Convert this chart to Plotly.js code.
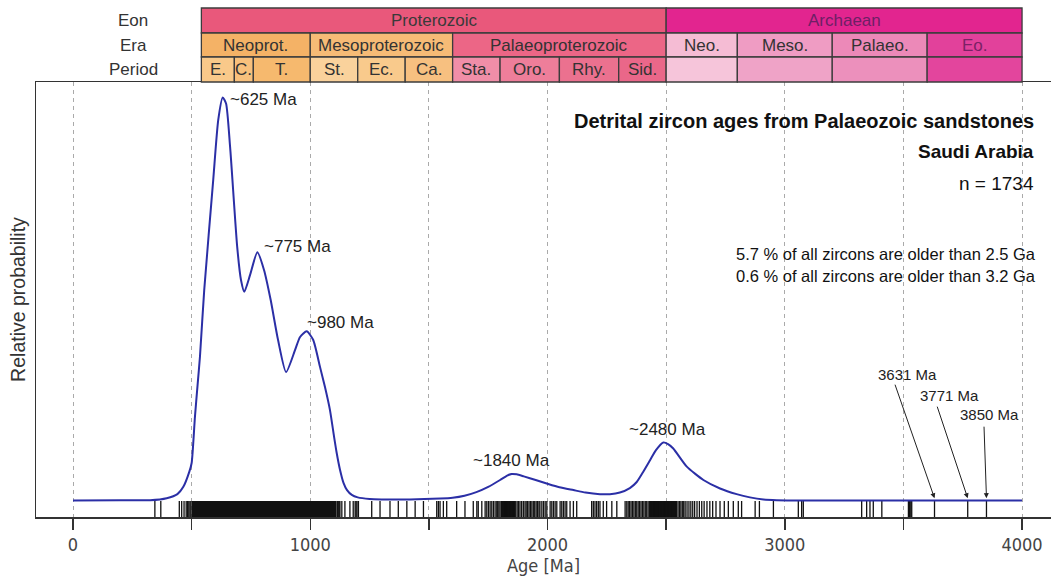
<!DOCTYPE html>
<html>
<head>
<meta charset="utf-8">
<script src="https://cdn.plot.ly/plotly-3.0.1.min.js"></script>
<style>html,body{margin:0;padding:0;background:#fff;}#chart{width:1051px;height:582px;}</style>
</head>
<body>
<div id="chart"></div>
<script>
// ---- Probability density curve (age in Ma, relative probability) ----
const ages = [0, 200, 325, 395, 440, 465, 490, 500, 514, 525, 535, 553, 591, 612, 631, 645, 662, 692, 708, 722, 746, 777, 805, 833, 864, 898, 936, 957, 985, 1012, 1041, 1062, 1083, 1100, 1111, 1125, 1140, 1155, 1175, 1200, 1250, 1300, 1420, 1547, 1600, 1650, 1700, 1750, 1800, 1830, 1849, 1870, 1900, 1950, 2003, 2050, 2109, 2160, 2221, 2263, 2305, 2347, 2376, 2403, 2432, 2457, 2488, 2508, 2530, 2587, 2657, 2727, 2797, 2853, 2910, 3065, 4000];
const relProb = [0.001, 0.002, 0.002, 0.007, 0.017, 0.035, 0.072, 0.094, 0.209, 0.287, 0.357, 0.522, 0.795, 0.943, 0.999, 0.984, 0.877, 0.629, 0.547, 0.518, 0.559, 0.616, 0.572, 0.498, 0.399, 0.319, 0.374, 0.406, 0.420, 0.399, 0.332, 0.282, 0.225, 0.160, 0.120, 0.078, 0.045, 0.027, 0.015, 0.009, 0.005, 0.004, 0.004, 0.006, 0.008, 0.013, 0.022, 0.035, 0.052, 0.063, 0.067, 0.066, 0.061, 0.052, 0.042, 0.034, 0.027, 0.021, 0.017, 0.017, 0.021, 0.032, 0.047, 0.072, 0.101, 0.126, 0.145, 0.141, 0.130, 0.085, 0.052, 0.031, 0.017, 0.009, 0.004, 0.001, 0.001];

// ---- Individual zircon ages (rug) ----
const rugAges = [345, 370, 448, 458, 468, 477, 483, 488, 493, 497,
  1114, 1118, 1122, 1125, 1133, 1146, 1167, 1181, 1189, 1193, 1197, 1203, 1259, 1294, 1336, 1371, 1407, 1442, 1477, 1533, 1540, 1547, 1561, 1575, 1617, 1652, 1687, 1702, 1708, 1723, 1737, 1744, 1751, 1758, 1765, 1772, 1779,
  1786, 1790, 1795, 1800, 1806, 1810, 1815, 1820, 1826, 1830, 1836, 1842, 1848, 1853, 1860, 1866, 1872, 1878, 1884, 1891, 1898, 1905, 1910, 1916, 1922, 1928, 1934, 1940, 1946, 1952, 1958, 1964, 1968, 1976, 1983, 1990, 1997, 2011, 2018, 2025, 2032, 2039, 2053, 2060, 2067, 2074, 2081, 2095, 2109, 2123, 2186, 2193, 2200, 2207, 2214, 2221, 2235, 2249, 2271, 2292,
  2327, 2334, 2340, 2346, 2352, 2358, 2364, 2370, 2376, 2382, 2388, 2394, 2400, 2406, 2412, 2418, 2424, 2430, 2436, 2442, 2448, 2454, 2460, 2466, 2472, 2478, 2484, 2490, 2496, 2502, 2508, 2514, 2520, 2526, 2532, 2538, 2544, 2550, 2556, 2562, 2568, 2574, 2580, 2588, 2596, 2604, 2612, 2620, 2630, 2640, 2650, 2660, 2672, 2684, 2696, 2710, 2727, 2745, 2762, 2783,
  2804, 2818, 2875, 2893, 2952, 3057, 3071, 3078, 3324, 3345, 3359, 3373, 3409, 3521, 3526, 3531, 3535, 3631, 3771, 3850];
// continuous (fully dense) intervals of the rug
const rugBlockStart = [500, 1805, 2430];
const rugBlockEnd = [1111, 1865, 2545];

// ---- Geological time scale header ----
const eonNames = ['Proterozoic', 'Archaean'];
const eonStart = [541, 2500];
const eonEnd = [2500, 4000];
const eraNames = ['Neoprot.', 'Mesoproterozoic', 'Palaeoproterozoic', 'Neo.', 'Meso.', 'Palaeo.', 'Eo.'];
const eraStart = [541, 1000, 1600, 2500, 2800, 3200, 3600];
const eraEnd = [1000, 1600, 2500, 2800, 3200, 3600, 4000];
const periodNames = ['E.', 'C.', 'T.', 'St.', 'Ec.', 'Ca.', 'Sta.', 'Oro.', 'Rhy.', 'Sid.', '', '', '', ''];
const periodStart = [541, 680, 760, 1000, 1200, 1400, 1600, 1800, 2050, 2300, 2500, 2800, 3200, 3600];
const periodEnd = [680, 760, 1000, 1200, 1400, 1600, 1800, 2050, 2300, 2500, 2800, 3200, 3600, 4000];

// peak labels
const peakLabels = ['~625 Ma', '~775 Ma', '~980 Ma', '~1840 Ma', '~2480 Ma'];
// oldest grains
const oldAges = [3631, 3771, 3850];
const oldLabels = ['3631 Ma', '3771 Ma', '3850 Ma'];

// ---- styles ----
const eonColors = ['#E9587B', '#E2258F'];
const eonTextColors = ['#3a3a3a', '#6e1f66'];
const eraColors = ['#F4B266', '#F6BB76', '#EC6686', '#F5BCD4', '#EF9CC3', '#EC89B8', '#E2419B'];
const eraTextColors = ['#333', '#333', '#333', '#333', '#333', '#333', '#7a2266'];
const periodColors = ['#F9C98A', '#F8C07C', '#F6B96E', '#FAD29C', '#F9CA8C', '#F7C080', '#F08EA8', '#EE7E9A', '#EB718F', '#EA6789', '#F6C5DA', '#EFA3C7', '#EC90BC', '#E3459D'];

const FONT = '"Liberation Sans", Arial, sans-serif';
const NARROW = '"Liberation Sans Narrow", "DejaVu Sans Condensed", "Arial Narrow", sans-serif';
const Y0 = -0.0396, Y1 = 1.0371;
const rowY = [[1.1701, 1.1126], [1.1126, 1.0575], [1.0575, 1.0]];

const traces = [];
// rug blocks
rugBlockStart.forEach((s, i) => {
  const e = rugBlockEnd[i];
  traces.push({x: [s, e, e, s, s], y: [0, 0, Y0, Y0, 0], mode: 'lines', fill: 'toself',
    fillcolor: '#111', line: {width: 0, color: '#111'}, hoverinfo: 'skip'});
});
// rug lines
const rx = [], ry = [];
rugAges.forEach(a => { rx.push(a, a, null); ry.push(0, Y0, null); });
traces.push({x: rx, y: ry, mode: 'lines', line: {color: '#111', width: 1.3}, hoverinfo: 'skip'});
// curve
traces.push({x: ages, y: relProb, mode: 'lines', line: {color: '#2B2FA6', width: 2, shape: 'spline', smoothing: 0.6}, hoverinfo: 'skip'});

const shapes = [];
const annotations = [];
function addRow(names, st, en, colors, ri, textColors) {
  names.forEach((n, i) => {
    shapes.push({type: 'rect', xref: 'x', yref: 'paper', x0: st[i], x1: en[i], y0: rowY[ri][1], y1: rowY[ri][0],
      fillcolor: colors[i], line: {color: '#3c3c3c', width: 1.3}, layer: 'above'});
    if (n) annotations.push({xref: 'x', yref: 'paper', x: (st[i] + en[i]) / 2, y: (rowY[ri][0] + rowY[ri][1]) / 2,
      xanchor: 'center', yanchor: 'middle',
      text: n, showarrow: false, font: {family: FONT, size: 17, color: textColors ? textColors[i] : '#333'}});
  });
}
addRow(eonNames, eonStart, eonEnd, eonColors, 0, eonTextColors);
addRow(eraNames, eraStart, eraEnd, eraColors, 1, eraTextColors);
addRow(periodNames, periodStart, periodEnd, periodColors, 2, null);

['Eon', 'Era', 'Period'].forEach((t, i) => {
  annotations.push({xref: 'paper', yref: 'paper', x: 0.0956, y: (rowY[i][0] + rowY[i][1]) / 2, text: t,
    xanchor: 'center', yanchor: 'middle',
    showarrow: false, font: {family: FONT, size: 17, color: '#333'}});
});

// peak labels (positions)
const peakPos = [[653, 0.993], [797, 0.631], [978, 0.443], [1678, 0.101], [2335, 0.176]];
peakLabels.forEach((t, i) => {
  annotations.push({xref: 'x', yref: 'y', x: peakPos[i][0], y: peakPos[i][1], xanchor: 'left', yanchor: 'middle', text: t,
    showarrow: false, font: {family: FONT, size: 17, color: '#222'}});
});

// arrows to oldest grains
const arrowOff = [[-40, -115], [-31, -93], [-2.5, -73]];
const oldLabelPos = [[3519, 0.312], [3694, 0.262], [3861, 0.213]];
oldAges.forEach((a, i) => {
  annotations.push({xref: 'x', yref: 'y', x: a, y: 0.007, ax: arrowOff[i][0], ay: arrowOff[i][1], text: '',
    showarrow: true, arrowhead: 2, arrowsize: 1, arrowwidth: 1, arrowcolor: '#222', standoff: 0, startstandoff: 0});
  annotations.push({xref: 'x', yref: 'y', x: oldLabelPos[i][0], y: oldLabelPos[i][1], text: oldLabels[i],
    xanchor: 'center', yanchor: 'middle',
    showarrow: false, font: {family: FONT, size: 15, color: '#222'}});
});

// text block
function rightText(t, x, y, size) {
  annotations.push({xref: 'paper', yref: 'paper', x: x, y: y, xanchor: 'right', yanchor: 'middle', showarrow: false,
    text: t, font: {family: FONT, size: size, color: '#111'}});
}
rightText('<b>Detrital zircon ages from Palaeozoic sandstones</b>', 0.9852, 0.9103, 20);
rightText('<b>Saudi Arabia</b>', 0.9852, 0.8391, 19);
rightText('n = 1734', 0.9852, 0.7678, 19);
rightText('5.7 % of all zircons are older than 2.5 Ga', 0.9872, 0.6046, 16.5);
rightText('0.6 % of all zircons are older than 3.2 Ga', 0.9872, 0.5540, 16.5);

const tickVals = [0, 500, 1000, 1500, 2000, 2500, 3000, 3500, 4000];
const tickText = ['0', '', '1000', '', '2000', '', '3000', '', '4000'];

const layout = {
  width: 1051, height: 582,
  margin: {l: 36, r: 0, t: 82, b: 65},
  paper_bgcolor: '#fff', plot_bgcolor: '#fff',
  showlegend: false,
  xaxis: {range: [-156, 4122], tickvals: tickVals, ticktext: tickText, ticks: 'outside', ticklen: 11,
    tickwidth: 1.5, tickcolor: '#333', showline: true, linecolor: '#333', linewidth: 1.5, mirror: true,
    showgrid: true, gridcolor: '#aaa', gridwidth: 1, griddash: '4px,4px', zeroline: false,
    tickfont: {family: NARROW, size: 18, color: '#444'},
    title: {text: 'Age [Ma]', font: {family: NARROW, size: 18, color: '#444'}, standoff: 4}},
  yaxis: {range: [Y0, Y1], showline: true, linecolor: '#333', linewidth: 1.5, showticklabels: false,
    ticks: '', showgrid: false, zeroline: false,
    title: {text: 'Relative probability', font: {family: FONT, size: 19.5, color: '#333'}, standoff: 3}},
  shapes: shapes,
  annotations: annotations
};

Plotly.newPlot('chart', traces, layout, {displayModeBar: false, staticPlot: true});
</script>
</body>
</html>
